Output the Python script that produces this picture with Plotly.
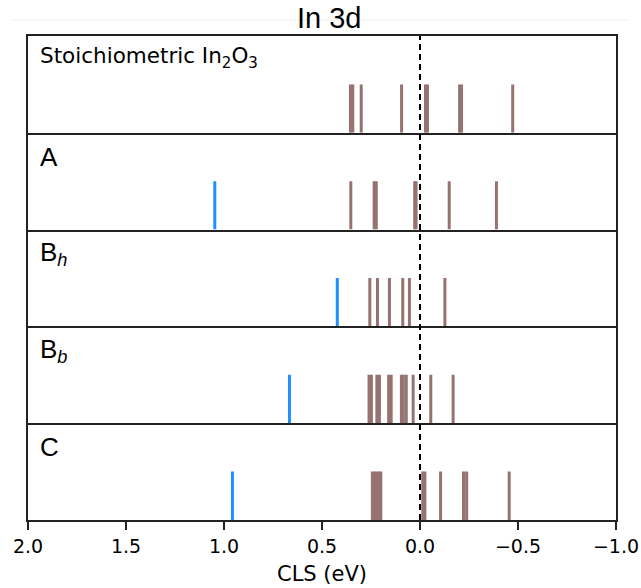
import plotly.graph_objects as go
from plotly.subplots import make_subplots

# Core-level shifts (eV) per structure, In 3d
panel_labels = [
    "Stoichiometric In<sub>2</sub>O<sub>3</sub>",
    "A",
    "B<sub><i>h</i></sub>",
    "B<sub><i>b</i></sub>",
    "C",
]
bulk_shifts = [
    [0.355, 0.343, 0.30, 0.094, -0.028, -0.038, -0.202, -0.212, -0.473],
    [0.353, 0.234, 0.223, 0.027, 0.02, -0.149, -0.39],
    [0.256, 0.217, 0.156, 0.088, 0.054, -0.127],
    [0.26, 0.248, 0.22, 0.207, 0.16, 0.147, 0.095, 0.085, 0.070, 0.035, -0.055, -0.169],
    [0.243, 0.232, 0.221, 0.21, 0.20, -0.014, -0.025, -0.105, -0.222, -0.238, -0.455],
]
defect_shifts = [
    [],
    [1.047],
    [0.422],
    [0.666],
    [0.957],
]
x_ticks = [2.0, 1.5, 1.0, 0.5, 0.0, -0.5, -1.0]
stick_height = 0.5

BROWN = "#967370"
BLUE = "#1e90ff"
FRAME = "#222222"

n = len(panel_labels)
fig = make_subplots(rows=n, cols=1, shared_xaxes=True, vertical_spacing=0)


def sticks(values):
    xs, ys = [], []
    for v in values:
        xs += [v, v, None]
        ys += [0, stick_height, None]
    return xs, ys


for i in range(n):
    row = i + 1
    xs, ys = sticks(bulk_shifts[i])
    fig.add_trace(go.Scatter(x=xs, y=ys, mode="lines",
                             line=dict(color=BROWN, width=3),
                             hoverinfo="skip", showlegend=False), row=row, col=1)
    if defect_shifts[i]:
        xs, ys = sticks(defect_shifts[i])
        fig.add_trace(go.Scatter(x=xs, y=ys, mode="lines",
                                 line=dict(color=BLUE, width=3),
                                 hoverinfo="skip", showlegend=False), row=row, col=1)
    fig.update_yaxes(range=[0, 1], showticklabels=False, ticks="", showgrid=False,
                     zeroline=False, showline=True, mirror=True,
                     linecolor=FRAME, linewidth=1.5, row=row, col=1)
    # bottom edge of each panel doubles as the separator; only the first draws its top
    fig.update_xaxes(range=[2.0, -1.0], showgrid=False, zeroline=False,
                     showline=True, mirror=(row == 1), linecolor=FRAME, linewidth=1.5,
                     showticklabels=(row == n), ticks="outside" if row == n else "",
                     tickvals=x_ticks, tickformat=".1f", ticklen=8, tickwidth=1.5,
                     tickcolor=FRAME, automargin=False, row=row, col=1)
    yref = "y domain" if row == 1 else f"y{row} domain"
    xref = "x domain" if row == 1 else f"x{row} domain"
    fig.add_annotation(text=panel_labels[i], xref=xref, yref=yref,
                       x=0.017, y=0.78 if i == 0 else 0.75,
                       xanchor="left", yanchor="middle", showarrow=False,
                       font=dict(family="DejaVu Sans" if i == 0 else "Liberation Sans",
                                 size=21.5 if i == 0 else 26, color="black"))

fig.update_xaxes(title=dict(text="CLS (eV)", font=dict(family="DejaVu Sans", size=21,
                                                       color="black"), standoff=11),
                 tickfont=dict(family="DejaVu Sans", size=19, color="black"),
                 row=n, col=1)

# reference line at zero shift across all panels
fig.add_shape(type="line", xref="x", yref="paper", x0=0, x1=0, y0=0, y1=1,
              line=dict(color="black", width=2, dash="6px,4px"), layer="above")

# light rule behind the title
fig.add_shape(type="line", xref="paper", yref="paper", x0=-0.027, x1=1.022,
              y0=1.033, y1=1.033, line=dict(color="#efefef", width=1), layer="below")

fig.add_annotation(text="In 3d", xref="paper", yref="paper", x=0.512, y=1.037,
                   xanchor="center", yanchor="middle", showarrow=False,
                   font=dict(family="Liberation Sans", size=29, color="black"))

fig.update_layout(width=641, height=588, margin=dict(l=28, r=25, t=36, b=68),
                  paper_bgcolor="white", plot_bgcolor="white")

fig.write_html("out.html")
